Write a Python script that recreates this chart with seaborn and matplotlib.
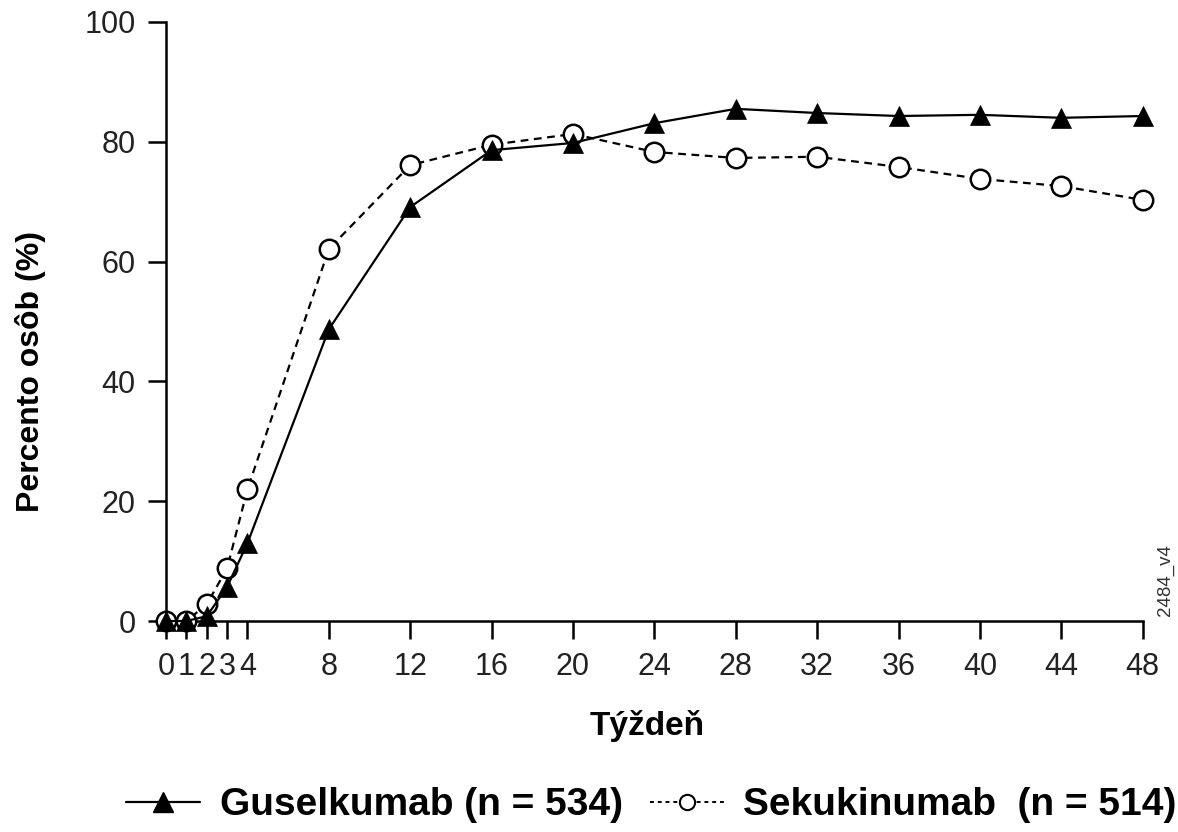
import matplotlib
matplotlib.use("Agg")
import matplotlib.pyplot as plt
import seaborn as sns
import pandas as pd
from matplotlib.lines import Line2D

weeks = [0, 1, 2, 3, 4, 8, 12, 16, 20, 24, 28, 32, 36, 40, 44, 48]
guselkumab = [0, 0, 0.8, 5.7, 13.0, 48.7, 69.1, 78.6, 79.8, 83.1, 85.5, 84.8, 84.3, 84.5, 84.0, 84.3]
sekukinumab = [0, 0, 2.8, 8.8, 22.0, 62.1, 76.1, 79.5, 81.3, 78.3, 77.3, 77.5, 75.8, 73.8, 72.6, 70.3]
xticks = [0, 1, 2, 3, 4, 8, 12, 16, 20, 24, 28, 32, 36, 40, 44, 48]
xticklabels = ["0", "1", "2", "3", "4", "8", "12", "16", "20", "24", "28", "32", "36", "40", "44", "48"]
yticks = [0, 20, 40, 60, 80, 100]
label_g = "Guselkumab (n = 534)"
label_s = "Sekukinumab  (n = 514)"

sns.set_theme(style="ticks")
plt.rcParams['font.family'] = ['Liberation Sans', 'DejaVu Sans']

df_g = pd.DataFrame({"week": weeks, "pct": guselkumab})
df_s = pd.DataFrame({"week": weeks, "pct": sekukinumab})

fig = plt.figure(figsize=(11.78, 8.32), dpi=100)
ax = fig.add_axes([0.141, 0.2536, 0.829, 0.72])

sns.lineplot(data=df_s, x="week", y="pct", ax=ax, color="black", linewidth=1.6,
             linestyle=(0, (3.5, 2.5)), marker="o", markersize=14, markerfacecolor="white",
             markeredgecolor="black", markeredgewidth=1.8, zorder=3)
sns.lineplot(data=df_g, x="week", y="pct", ax=ax, color="black", linewidth=1.6,
             marker="^", markersize=14, markerfacecolor="black",
             markeredgecolor="black", markeredgewidth=0.5, zorder=4)

ax.set_xlim(0, 48)
ax.set_ylim(0, 100)
for m in ax.lines:
    m.set_clip_on(False)
ax.set_xticks(xticks)
ax.set_xticklabels(xticklabels)
ax.set_yticks(yticks)
ax.tick_params(axis="both", direction="out", length=13, width=1.8, labelsize=22,
               colors="black", labelcolor="#222222", pad=9)
sns.despine(ax=ax)
for s in ("left", "bottom"):
    ax.spines[s].set_linewidth(1.8)
    ax.spines[s].set_color("black")

ax.set_xlabel("Týždeň", fontsize=24, fontweight="bold", color="black")
ax.set_ylabel("Percento osôb (%)", fontsize=23, fontweight="bold", color="black")
ax.xaxis.set_label_coords(0.4925, -0.148)
ax.yaxis.set_label_coords(-0.123, 0.416)

fig.text(0.989, 0.303, "2484_v4", rotation=90, fontsize=13.5, ha="center", va="center", color="#333333")

handles = [
    Line2D([], [], color="black", linewidth=1.6, marker="^", markersize=14,
           markerfacecolor="black", markeredgecolor="black"),
    Line2D([], [], color="black", linewidth=1.4, linestyle=(0, (2, 2)), marker="o", markersize=11,
           markerfacecolor="white", markeredgecolor="black", markeredgewidth=1.5),
]
leg = fig.legend(handles, [label_g, label_s], loc="center", bbox_to_anchor=(0.553, 0.032),
                 ncol=2, frameon=False, handlelength=1.9, columnspacing=0.7, handletextpad=0.5,
                 labelcolor="black", prop={"weight": "bold", "size": 28})

fig.savefig("out.png", dpi=100)
